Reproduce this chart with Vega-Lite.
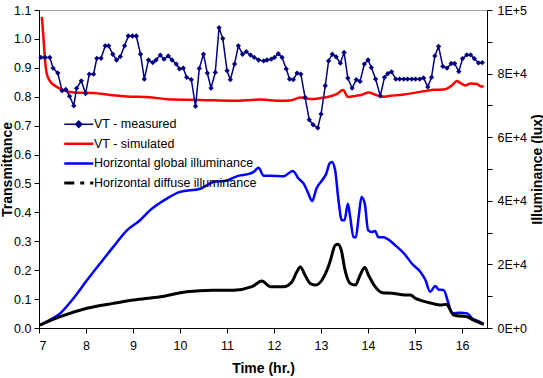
{
  "$schema": "https://vega.github.io/schema/vega-lite/v6.json",
  "width": 448,
  "height": 318,
  "autosize": {"type": "none"},
  "padding": {"left": 39, "top": 10, "right": 56, "bottom": 50},
  "background": "white",
  "config": {
    "font": "Liberation Sans",
    "view": {"stroke": "#a0a0a0", "strokeWidth": 1},
    "axis": {
      "grid": false,
      "domainColor": "#000000",
      "domainWidth": 1,
      "tickColor": "#000000",
      "tickSize": 5,
      "tickWidth": 1,
      "labelColor": "#000000",
      "labelFont": "Liberation Sans",
      "labelFontSize": 12.5,
      "titleColor": "#000000",
      "titleFont": "Liberation Sans",
      "titleFontSize": 14,
      "titleFontWeight": "bold"
    }
  },
  "datasets": {
    "measured": [
      {"t": 7.04, "v": 0.936}, {"t": 7.13, "v": 0.936}, {"t": 7.23, "v": 0.936}, {"t": 7.30, "v": 0.899},
      {"t": 7.40, "v": 0.882}, {"t": 7.49, "v": 0.821}, {"t": 7.57, "v": 0.825}, {"t": 7.65, "v": 0.802},
      {"t": 7.74, "v": 0.769}, {"t": 7.80, "v": 0.829}, {"t": 7.90, "v": 0.855}, {"t": 7.99, "v": 0.811},
      {"t": 8.07, "v": 0.878}, {"t": 8.16, "v": 0.878}, {"t": 8.23, "v": 0.933}, {"t": 8.32, "v": 0.933},
      {"t": 8.41, "v": 0.976}, {"t": 8.48, "v": 0.976}, {"t": 8.57, "v": 0.947}, {"t": 8.65, "v": 0.927},
      {"t": 8.73, "v": 0.939}, {"t": 8.82, "v": 0.976}, {"t": 8.90, "v": 1.010}, {"t": 8.99, "v": 1.010},
      {"t": 9.07, "v": 1.010}, {"t": 9.16, "v": 0.947}, {"t": 9.24, "v": 0.861}, {"t": 9.33, "v": 0.927},
      {"t": 9.42, "v": 0.918}, {"t": 9.49, "v": 0.927}, {"t": 9.58, "v": 0.944}, {"t": 9.66, "v": 0.930},
      {"t": 9.75, "v": 0.941}, {"t": 9.83, "v": 0.927}, {"t": 9.92, "v": 0.913}, {"t": 9.99, "v": 0.896},
      {"t": 10.07, "v": 0.899}, {"t": 10.14, "v": 0.867}, {"t": 10.24, "v": 0.859}, {"t": 10.33, "v": 0.767},
      {"t": 10.41, "v": 0.898}, {"t": 10.50, "v": 0.947}, {"t": 10.58, "v": 0.882}, {"t": 10.66, "v": 0.830},
      {"t": 10.75, "v": 0.884}, {"t": 10.83, "v": 1.039}, {"t": 10.91, "v": 1.001}, {"t": 11.00, "v": 0.890},
      {"t": 11.07, "v": 0.859}, {"t": 11.16, "v": 0.913}, {"t": 11.24, "v": 0.976}, {"t": 11.33, "v": 0.947},
      {"t": 11.41, "v": 0.956}, {"t": 11.50, "v": 0.944}, {"t": 11.58, "v": 0.936}, {"t": 11.67, "v": 0.927},
      {"t": 11.78, "v": 0.924}, {"t": 11.85, "v": 0.927}, {"t": 11.94, "v": 0.930}, {"t": 12.01, "v": 0.936},
      {"t": 12.09, "v": 0.949}, {"t": 12.17, "v": 0.936}, {"t": 12.26, "v": 0.896}, {"t": 12.33, "v": 0.861},
      {"t": 12.41, "v": 0.859}, {"t": 12.49, "v": 0.882}, {"t": 12.57, "v": 0.878}, {"t": 12.66, "v": 0.798},
      {"t": 12.75, "v": 0.720}, {"t": 12.83, "v": 0.703}, {"t": 12.93, "v": 0.692}, {"t": 13.00, "v": 0.740},
      {"t": 13.09, "v": 0.838}, {"t": 13.16, "v": 0.924}, {"t": 13.24, "v": 0.947}, {"t": 13.32, "v": 0.938},
      {"t": 13.41, "v": 0.916}, {"t": 13.49, "v": 0.953}, {"t": 13.57, "v": 0.864}, {"t": 13.66, "v": 0.830},
      {"t": 13.75, "v": 0.859}, {"t": 13.83, "v": 0.853}, {"t": 13.92, "v": 0.913}, {"t": 14.00, "v": 0.927},
      {"t": 14.07, "v": 0.901}, {"t": 14.16, "v": 0.861}, {"t": 14.26, "v": 0.803}, {"t": 14.35, "v": 0.867},
      {"t": 14.42, "v": 0.880}, {"t": 14.50, "v": 0.886}, {"t": 14.59, "v": 0.861}, {"t": 14.67, "v": 0.861},
      {"t": 14.76, "v": 0.861}, {"t": 14.84, "v": 0.861}, {"t": 14.93, "v": 0.861}, {"t": 15.01, "v": 0.861},
      {"t": 15.10, "v": 0.861}, {"t": 15.18, "v": 0.865}, {"t": 15.27, "v": 0.834}, {"t": 15.35, "v": 0.867},
      {"t": 15.42, "v": 0.941}, {"t": 15.50, "v": 0.974}, {"t": 15.59, "v": 0.905}, {"t": 15.68, "v": 0.899},
      {"t": 15.77, "v": 0.915}, {"t": 15.84, "v": 0.915}, {"t": 15.93, "v": 0.887}, {"t": 16.01, "v": 0.932},
      {"t": 16.10, "v": 0.945}, {"t": 16.18, "v": 0.945}, {"t": 16.26, "v": 0.932}, {"t": 16.35, "v": 0.917},
      {"t": 16.43, "v": 0.918}
    ],
    "simulated": [
      {"t": 7.06, "v": 1.076}, {"t": 7.09, "v": 1.016}, {"t": 7.13, "v": 0.924}, {"t": 7.16, "v": 0.884},
      {"t": 7.23, "v": 0.855}, {"t": 7.34, "v": 0.838}, {"t": 7.52, "v": 0.823}, {"t": 7.73, "v": 0.815},
      {"t": 8.16, "v": 0.813}, {"t": 8.51, "v": 0.806}, {"t": 8.87, "v": 0.801}, {"t": 9.36, "v": 0.798},
      {"t": 9.86, "v": 0.790}, {"t": 10.43, "v": 0.789}, {"t": 11.13, "v": 0.786}, {"t": 11.71, "v": 0.790},
      {"t": 12.13, "v": 0.786}, {"t": 12.34, "v": 0.787}, {"t": 12.56, "v": 0.797}, {"t": 12.77, "v": 0.792},
      {"t": 12.98, "v": 0.795}, {"t": 13.16, "v": 0.800}, {"t": 13.34, "v": 0.810}, {"t": 13.47, "v": 0.823},
      {"t": 13.57, "v": 0.799}, {"t": 13.73, "v": 0.803}, {"t": 13.87, "v": 0.807}, {"t": 14.01, "v": 0.815},
      {"t": 14.15, "v": 0.807}, {"t": 14.30, "v": 0.800}, {"t": 14.47, "v": 0.803}, {"t": 14.76, "v": 0.808},
      {"t": 15.04, "v": 0.815}, {"t": 15.25, "v": 0.821}, {"t": 15.39, "v": 0.824}, {"t": 15.61, "v": 0.825},
      {"t": 15.79, "v": 0.840}, {"t": 15.89, "v": 0.854}, {"t": 15.96, "v": 0.848}, {"t": 16.07, "v": 0.839},
      {"t": 16.18, "v": 0.846}, {"t": 16.32, "v": 0.844}, {"t": 16.39, "v": 0.836}, {"t": 16.46, "v": 0.835}
    ],
    "global": [
      {"t": 7.02, "lux": 900}, {"t": 7.16, "lux": 2000}, {"t": 7.45, "lux": 4600}, {"t": 7.73, "lux": 9300},
      {"t": 8.02, "lux": 15000}, {"t": 8.30, "lux": 20300}, {"t": 8.58, "lux": 25500}, {"t": 8.87, "lux": 30700},
      {"t": 9.15, "lux": 33900}, {"t": 9.36, "lux": 37000}, {"t": 9.72, "lux": 40700}, {"t": 10.00, "lux": 42800},
      {"t": 10.43, "lux": 43800}, {"t": 10.71, "lux": 45900}, {"t": 11.00, "lux": 46400}, {"t": 11.14, "lux": 47300},
      {"t": 11.28, "lux": 48000}, {"t": 11.42, "lux": 48300}, {"t": 11.56, "lux": 49000}, {"t": 11.67, "lux": 50400},
      {"t": 11.78, "lux": 47900}, {"t": 11.92, "lux": 47900}, {"t": 12.20, "lux": 47700}, {"t": 12.40, "lux": 49400},
      {"t": 12.52, "lux": 47000}, {"t": 12.63, "lux": 45400}, {"t": 12.73, "lux": 42300}, {"t": 12.81, "lux": 39900},
      {"t": 12.90, "lux": 43800}, {"t": 13.02, "lux": 46400}, {"t": 13.11, "lux": 48500}, {"t": 13.18, "lux": 51700},
      {"t": 13.23, "lux": 52200}, {"t": 13.30, "lux": 49600}, {"t": 13.37, "lux": 40200}, {"t": 13.44, "lux": 33900},
      {"t": 13.50, "lux": 33900}, {"t": 13.57, "lux": 39100}, {"t": 13.62, "lux": 34900}, {"t": 13.69, "lux": 28500},
      {"t": 13.74, "lux": 28500}, {"t": 13.80, "lux": 34900}, {"t": 13.86, "lux": 41200}, {"t": 13.93, "lux": 39100},
      {"t": 14.00, "lux": 30800}, {"t": 14.08, "lux": 30200}, {"t": 14.15, "lux": 30500}, {"t": 14.22, "lux": 28500},
      {"t": 14.33, "lux": 28500}, {"t": 14.40, "lux": 28100}, {"t": 14.58, "lux": 26000}, {"t": 14.79, "lux": 23000},
      {"t": 14.93, "lux": 20300}, {"t": 15.11, "lux": 17700}, {"t": 15.22, "lux": 15100}, {"t": 15.32, "lux": 11400},
      {"t": 15.43, "lux": 13200}, {"t": 15.50, "lux": 12100}, {"t": 15.61, "lux": 11900}, {"t": 15.70, "lux": 8250},
      {"t": 15.79, "lux": 4600}, {"t": 15.96, "lux": 4800}, {"t": 16.11, "lux": 4600}, {"t": 16.21, "lux": 3050},
      {"t": 16.32, "lux": 2300}, {"t": 16.46, "lux": 1250}
    ],
    "diffuse": [
      {"t": 7.02, "lux": 900}, {"t": 7.45, "lux": 3550}, {"t": 8.02, "lux": 6200}, {"t": 8.58, "lux": 7750},
      {"t": 9.01, "lux": 8800}, {"t": 9.58, "lux": 9800}, {"t": 10.14, "lux": 11400}, {"t": 10.71, "lux": 11900},
      {"t": 11.14, "lux": 11900}, {"t": 11.53, "lux": 13000}, {"t": 11.74, "lux": 14800}, {"t": 11.92, "lux": 13000},
      {"t": 12.20, "lux": 13000}, {"t": 12.38, "lux": 14500}, {"t": 12.47, "lux": 17200}, {"t": 12.56, "lux": 19200},
      {"t": 12.66, "lux": 16600}, {"t": 12.77, "lux": 14000}, {"t": 12.88, "lux": 13500}, {"t": 13.02, "lux": 15100},
      {"t": 13.14, "lux": 18700}, {"t": 13.20, "lux": 21300}, {"t": 13.30, "lux": 26000}, {"t": 13.36, "lux": 26350},
      {"t": 13.43, "lux": 24500}, {"t": 13.51, "lux": 18200}, {"t": 13.62, "lux": 14000}, {"t": 13.73, "lux": 13500},
      {"t": 13.83, "lux": 16600}, {"t": 13.93, "lux": 19050}, {"t": 14.01, "lux": 16600}, {"t": 14.15, "lux": 13000},
      {"t": 14.30, "lux": 11100}, {"t": 14.51, "lux": 10900}, {"t": 14.79, "lux": 10400}, {"t": 14.90, "lux": 10400},
      {"t": 15.01, "lux": 9300}, {"t": 15.15, "lux": 8550}, {"t": 15.36, "lux": 7750}, {"t": 15.54, "lux": 7200},
      {"t": 15.68, "lux": 7500}, {"t": 15.71, "lux": 6800}, {"t": 15.82, "lux": 4100}, {"t": 15.96, "lux": 3750},
      {"t": 16.11, "lux": 3550}, {"t": 16.21, "lux": 2700}, {"t": 16.32, "lux": 2000}, {"t": 16.46, "lux": 1150}
    ]
  },
  "layer": [
    {
      "encoding": {
        "x": {
          "field": "t",
          "type": "quantitative",
          "scale": {"domain": [7, 16.53], "nice": false, "zero": false},
          "axis": {
            "title": "Time (hr.)",
            "values": [7, 8, 9, 10, 11, 12, 13, 14, 15, 16],
            "format": "d",
            "labelPadding": 6,
            "titleY": 33,
            "titleBaseline": "top"
          }
        },
        "y": {
          "field": "v",
          "type": "quantitative",
          "scale": {"domain": [0, 1.1], "nice": false},
          "axis": {
            "orient": "left",
            "title": "Transmittance",
            "values": [0, 0.1, 0.2, 0.3, 0.4, 0.5, 0.6, 0.7, 0.8, 0.9, 1.0, 1.1],
            "format": ".1f",
            "labelPadding": 3,
            "titleAngle": 270,
            "titleX": -28,
            "titleY": 159,
            "titleAlign": "center",
            "titleBaseline": "alphabetic"
          }
        }
      },
      "layer": [
        {
          "data": {"name": "simulated"},
          "mark": {"type": "line", "interpolate": "monotone", "strokeWidth": 2.5},
          "encoding": {
            "color": {
              "datum": "VT - simulated",
              "type": "nominal",
              "scale": {
                "domain": ["VT - measured", "VT - simulated", "Horizontal global illuminance", "Horizontal diffuse illuminance"],
                "range": ["#000080", "#ff0000", "#0000ff", "#000000"]
              },
              "legend": {
                "title": null,
                "orient": "none",
                "legendX": 22,
                "legendY": 108,
                "padding": 0,
                "symbolType": "stroke",
                "symbolSize": 841,
                "symbolStrokeWidth": 2.5,
                "symbolOffset": 11.5,
                "labelFont": "Liberation Sans",
                "labelFontSize": 12.5,
                "labelColor": "#000000",
                "labelOffset": 9,
                "labelLimit": 400,
                "rowPadding": 6.6,
                "encode": {
                  "symbols": {
                    "update": {
                      "shape": {"signal": "datum.label === 'VT - measured' ? 'M-1,0H1M0,-0.22L0.22,0L0,0.22L-0.22,0Z' : 'stroke'"},
                      "fill": {"signal": "datum.label === 'VT - measured' ? '#000080' : 'transparent'"},
                      "strokeWidth": {"signal": "datum.label === 'VT - measured' ? 1.5 : (datum.label === 'Horizontal diffuse illuminance' ? 3 : 2.5)"},
                      "strokeDash": {"signal": "datum.label === 'Horizontal diffuse illuminance' ? [10, 6, 4, 6] : [1, 0]"}
                    }
                  }
                }
              }
            }
          }
        },
        {
          "data": {"name": "measured"},
          "mark": {"type": "line", "strokeWidth": 1.5},
          "encoding": {"color": {"datum": "VT - measured", "type": "nominal"}}
        },
        {
          "data": {"name": "measured"},
          "mark": {"type": "point", "shape": "diamond", "filled": true, "size": 28, "color": "#000080", "opacity": 1}
        },
        {
          "data": {"values": [{}]},
          "mark": {"type": "text", "text": "Nov. 10,\u00a0 2003", "font": "Liberation Sans", "fontSize": 12.5, "color": "#000000", "align": "center", "baseline": "middle"},
          "encoding": {
            "x": {"datum": 14.33, "type": "quantitative"},
            "y": {"datum": 1.045, "type": "quantitative"}
          }
        }
      ]
    },
    {
      "encoding": {
        "x": {"field": "t", "type": "quantitative"},
        "y": {
          "field": "lux",
          "type": "quantitative",
          "scale": {"domain": [0, 100000], "nice": false},
          "axis": {
            "orient": "right",
            "title": "Illuminance (lux)",
            "values": [0, 10000, 20000, 30000, 40000, 50000, 60000, 70000, 80000, 90000, 100000],
            "labelExpr": "datum.value == 0 ? '0E+0' : (datum.value == 100000 ? '1E+5' : (datum.value % 20000 == 0 ? (datum.value / 10000) + 'E+4' : ''))",
            "labelPadding": 5,
            "titleAngle": 270,
            "titleX": 54,
            "titleY": 159,
            "titleAlign": "center",
            "titleBaseline": "alphabetic"
          }
        }
      },
      "layer": [
        {
          "data": {"name": "global"},
          "mark": {"type": "line", "interpolate": "monotone", "strokeWidth": 2.5},
          "encoding": {"color": {"datum": "Horizontal global illuminance", "type": "nominal"}}
        },
        {
          "data": {"name": "diffuse"},
          "mark": {"type": "line", "interpolate": "monotone", "strokeWidth": 3},
          "encoding": {"color": {"datum": "Horizontal diffuse illuminance", "type": "nominal"}}
        }
      ]
    }
  ],
  "resolve": {"scale": {"y": "independent"}}
}
